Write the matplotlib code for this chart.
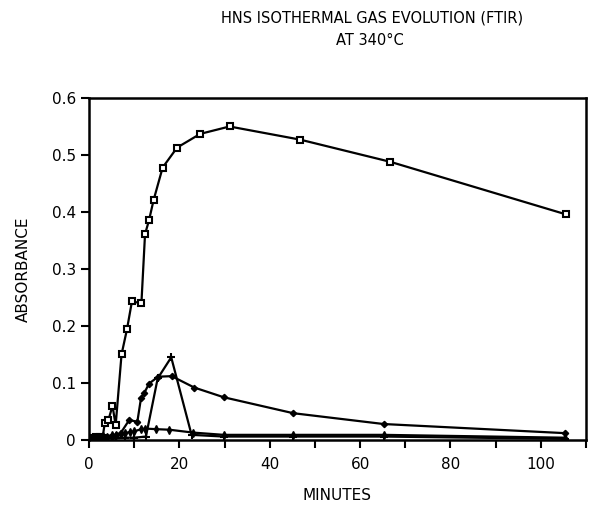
import matplotlib.pyplot as plt

# square markers - main gas
sq_t = [0, 0.5, 1, 1.5, 2, 2.5, 3, 3.5, 4.3, 5.2, 5.9, 7.2, 8.4, 9.5, 11.6,
        12.4, 13.3, 14.3, 16.3, 19.5, 24.6, 31.1, 46.7, 66.7, 105.5]
sq_v = [0.0, 0.004, 0.002, 0.005, 0.003, 0.006, 0.004, 0.030, 0.035, 0.060, 0.026,
        0.150, 0.194, 0.243, 0.240, 0.361, 0.386, 0.421, 0.478, 0.513, 0.537,
        0.550, 0.527, 0.488, 0.396]

# diamond markers - broad peak
dm_t = [0, 1, 2, 3, 4, 5, 6, 7, 8.9, 10.7, 11.5, 12.2, 13.3, 15.3, 18.3,
        23.3, 29.8, 45.2, 65.2, 105.3]
dm_v = [0.002, 0.003, 0.005, 0.004, 0.006, 0.005, 0.008, 0.012, 0.035, 0.032,
        0.073, 0.082, 0.099, 0.111, 0.112, 0.092, 0.075, 0.047, 0.028, 0.012]

# sharp spike
sp_t = [0, 2, 4, 6, 8, 10, 12.6, 15.2, 18.2, 22.7, 29.8, 45.2, 65.2, 105.3]
sp_v = [0.0, 0.002, 0.003, 0.003, 0.004, 0.004, 0.006, 0.108, 0.145, 0.009,
        0.006, 0.006, 0.006, 0.002]

# low level gas
lo_t = [0, 1, 2, 3, 4, 5, 6, 7, 8, 9, 10, 11.5, 12.5, 14.8, 17.8, 23.0,
        29.8, 45.2, 65.2, 105.3]
lo_v = [0.003, 0.005, 0.004, 0.007, 0.006, 0.009, 0.008, 0.010, 0.012, 0.014,
        0.015, 0.019, 0.020, 0.019, 0.018, 0.013, 0.009, 0.009, 0.009, 0.004]

y_ticks = [0, 0.1, 0.2, 0.3, 0.4, 0.5, 0.6]
y_labels = ["0", "0.1", "0.2", "0.3", "0.4", "0.5", "0.6"]
x_ticks = [0, 20, 40, 60, 80, 100]
x_minor = [10, 30, 50, 70, 90, 110]

fig = plt.figure(figsize=(5.91, 5.08), dpi=100)
ax = fig.add_axes([0.1506, 0.1339, 0.8409, 0.6732])

ax.plot(sq_t, sq_v, color="black", lw=1.6, marker="s", ms=4.5,
        mfc="white", mec="black", mew=1.5)
ax.plot(dm_t, dm_v, color="black", lw=1.6, marker="D", ms=3.2,
        mfc="black", mec="black")
ax.plot(sp_t, sp_v, color="black", lw=1.6, marker="+", ms=6, mew=1.5)
ax.plot(lo_t, lo_v, color="black", lw=1.6, marker="d", ms=4,
        mfc="black", mec="black")

ax.set_xlim(0, 110)
ax.set_ylim(0, 0.6)
ax.set_yticks(y_ticks)
ax.set_yticklabels(y_labels)
ax.set_xticks(x_ticks)
ax.set_xticklabels([str(t) for t in x_ticks])
ax.set_xticks(x_minor, minor=True)
ax.tick_params(which="both", direction="out", width=1.5, length=6,
               labelsize=11)
ax.tick_params(axis="x", pad=6)
for s in ax.spines.values():
    s.set_linewidth(1.8)

ax.set_xlabel("MINUTES", fontsize=11, labelpad=12)
ax.set_ylabel("ABSORBANCE", fontsize=11, labelpad=15)

fig.text(0.63, 0.965, "HNS ISOTHERMAL GAS EVOLUTION (FTIR)", ha="center",
         va="center", fontsize=10.5)
fig.text(0.625, 0.92, "AT 340°C", ha="center", va="center", fontsize=10.5)

fig.savefig("out.png", dpi=100)
